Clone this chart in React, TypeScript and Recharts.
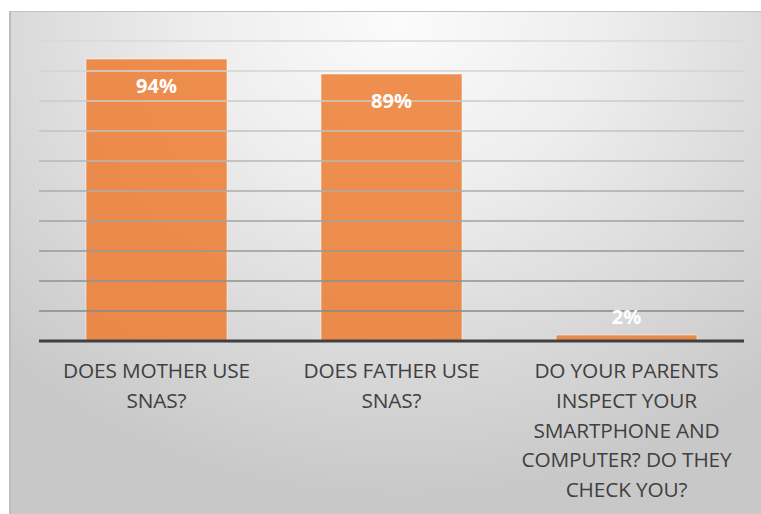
import React from 'react';
import { BarChart, Bar, XAxis, YAxis, ReferenceLine, LabelList } from 'recharts';

const categories = [
  'DOES MOTHER USE SNAS?',
  'DOES FATHER USE SNAS?',
  'DO YOUR PARENTS INSPECT YOUR SMARTPHONE AND COMPUTER? DO THEY CHECK YOU?',
];
const tickLines = [
  ['DOES MOTHER USE', 'SNAS?'],
  ['DOES FATHER USE', 'SNAS?'],
  ['DO YOUR PARENTS', 'INSPECT YOUR', 'SMARTPHONE AND', 'COMPUTER? DO THEY', 'CHECK YOU?'],
];
const values = [94, 89, 2];
const yTicks = [10, 20, 30, 40, 50, 60, 70, 80, 90, 100];

const gridColors = ['#d8d8d8', '#d3d3d3', '#cbcbcb', '#c2c2c2', '#b7b7b7', '#acacac', '#a2a2a2', '#989898', '#8f8f8f', '#888888'];

const data = categories.map((c, i) => ({ name: c, value: values[i], idx: i }));

const FONT = "'Open Sans', 'Noto Sans', sans-serif";

const CategoryTick = (props: any) => {
  const { x, y, payload } = props;
  const lines = tickLines[payload.index] || [payload.value];
  return (
    <g transform={`translate(${x},${y})`}>
      <text textAnchor="middle" fill="#404040" fontFamily={FONT} fontSize={20.8} style={{ letterSpacing: '-0.15px' }}>
        {lines.map((l: string, i: number) => (
          <tspan key={i} x={0} y={29 + i * 29.8}>{l}</tspan>
        ))}
      </text>
    </g>
  );
};

const ValueLabel = (props: any) => {
  const { x, y, width, height, value } = props;
  const cx = x + width / 2;
  const inside = height > 40;
  const ty = inside ? y + 34 : y - 11;
  return (
    <text x={cx} y={ty} textAnchor="middle" fill="#ffffff" fontFamily={FONT} fontWeight={700} fontSize={20}>
      {value}%
    </text>
  );
};

export default function App() {
  return (
    <div style={{ position: 'absolute', left: 0, top: 0, width: 761, height: 514, background: '#ffffff', overflow: 'hidden' }}>
      <div
        style={{
          position: 'absolute',
          left: 9,
          top: 11,
          width: 752,
          height: 503,
          background: 'radial-gradient(ellipse 75% 95% at 52% 2%, #fbfbfb 0%, #eeeeee 35%, #dcdcdc 65%, #c8c8c8 100%)',
          borderTop: '1px solid #c4c4c4',
          borderLeft: '2px solid #bcbcbc',
          boxSizing: 'border-box',
        }}
      >
        <BarChart
          width={750}
          height={502}
          data={data}
          margin={{ top: 29, right: 17, bottom: 0, left: 28 }}
          barCategoryGap="20%"
        >
          <YAxis hide domain={[0, 100]} ticks={[0, ...yTicks]} />
          {yTicks.map((t, i) => (
            <ReferenceLine key={t} y={t} stroke={gridColors[9 - i]} strokeWidth={1.7} ifOverflow="extendDomain" />
          ))}
          <XAxis
            dataKey="name"
            height={173}
            interval={0}
            tickLine={false}
            axisLine={{ stroke: '#404040', strokeWidth: 3 }}
            tick={<CategoryTick />}
          />
          <Bar
            dataKey="value"
            fill="#ED7D31"
            fillOpacity={0.85}
            stroke="#ffffff"
            strokeOpacity={0.5}
            strokeWidth={1}
            isAnimationActive={false}
          >
            <LabelList dataKey="value" content={<ValueLabel />} />
          </Bar>
        </BarChart>
      </div>
    </div>
  );
}
